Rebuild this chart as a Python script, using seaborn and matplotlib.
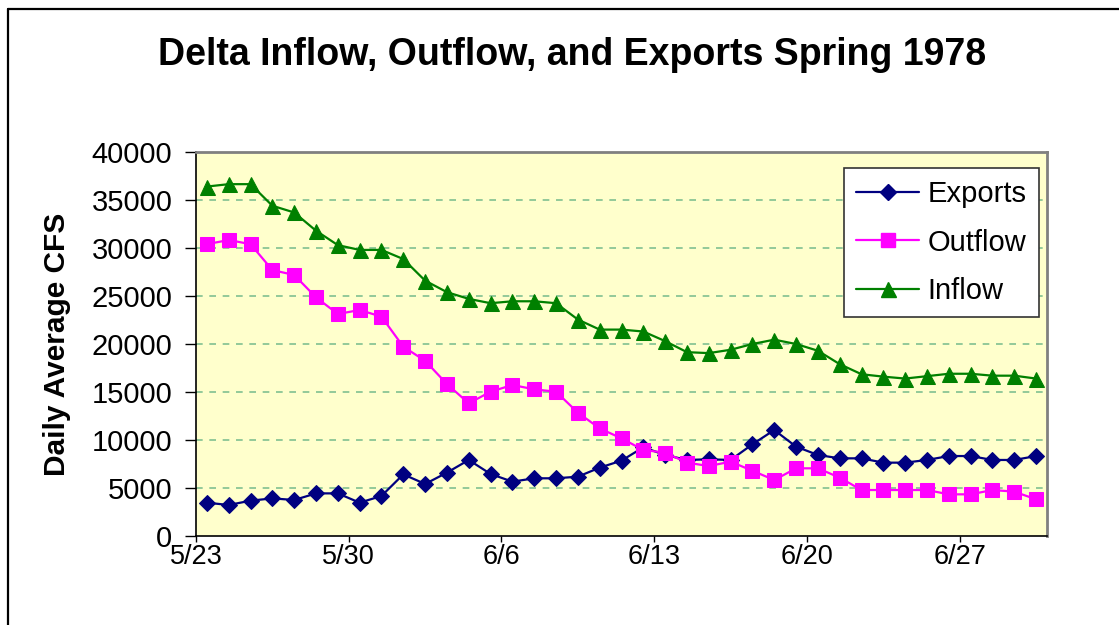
import numpy as np
import pandas as pd
import matplotlib
matplotlib.use('Agg')
import matplotlib.pyplot as plt
import seaborn as sns
from matplotlib.lines import Line2D

# daily values, 5/23 .. 6/30 (39 days)
days = list(range(39))

exports = [3470, 3230, 3680, 3920, 3750, 4440, 4440, 3470, 4170, 6420,
           5420, 6600, 7920, 6460, 5660, 6010, 6010, 6180, 7120, 7850,
           9240, 8440, 7920, 7990, 7920, 9550, 11040, 9310, 8440, 8090,
           8090, 7640, 7640, 7920, 8330, 8330, 7920, 7920, 8330]

outflow = [30400, 30830, 30400, 27700, 27190, 24860, 23125, 23540, 22850, 19720,
           18250, 15830, 13820, 15030, 15730, 15280, 15030, 12850, 11210, 10170,
           8960, 8680, 7640, 7290, 7740, 6800, 5830, 7050, 7050, 6080,
           4790, 4790, 4790, 4790, 4340, 4340, 4790, 4620, 3820]

inflow = [36400, 36650, 36650, 34400, 33700, 31800, 30300, 29800, 29800, 28850,
          26600, 25400, 24700, 24250, 24450, 24450, 24250, 22550, 21500, 21500,
          21300, 20300, 19150, 19050, 19400, 20000, 20450, 20000, 19300, 17900,
          16850, 16600, 16400, 16650, 16900, 16900, 16700, 16700, 16400]

tick_labels = ['5/23', '5/30', '6/6', '6/13', '6/20', '6/27']
y_ticks = [0, 5000, 10000, 15000, 20000, 25000, 30000, 35000, 40000]

series_names = ['Exports', 'Outflow', 'Inflow']
colors = {'Exports': '#000080', 'Outflow': '#FF00FF', 'Inflow': '#008000'}
markers = {'Exports': 'D', 'Outflow': 's', 'Inflow': '^'}
msizes = {'Exports': 8.3, 'Outflow': 9.6, 'Inflow': 10.8}

df = pd.DataFrame({'day': days * 3,
                   'value': exports + outflow + inflow,
                   'series': ['Exports'] * 39 + ['Outflow'] * 39 + ['Inflow'] * 39})

sns.set_style('white')
plt.rcParams['font.family'] = ['Liberation Sans', 'DejaVu Sans']
plt.rcParams['text.color'] = 'black'
plt.rcParams['axes.labelcolor'] = 'black'
plt.rcParams['xtick.color'] = 'black'
plt.rcParams['ytick.color'] = 'black'

fig = plt.figure(figsize=(11.19, 6.25), dpi=100)
ax = fig.add_axes([196 / 1119, 89 / 625, 851 / 1119, 384 / 625])
ax.set_facecolor('#FFFFCC')

for name in series_names:
    sub = df[df['series'] == name]
    sns.lineplot(data=sub, x='day', y='value', ax=ax, color=colors[name],
                 marker=markers[name], markersize=msizes[name],
                 markeredgecolor=colors[name], linewidth=1.6, label=name,
                 legend=False)

ax.set_xlim(-0.5, 38.5)
ax.set_ylim(0, 40000)
ax.set_yticks(y_ticks)
ax.set_yticklabels([str(v) for v in y_ticks], fontsize=21)
ax.set_xticks([-0.5 + 7 * i for i in range(len(tick_labels))])
ax.set_xticklabels(tick_labels, fontsize=19.5)
ax.tick_params(axis='y', direction='out', length=8, width=1, color='black',
               left=True, pad=9)
ax.tick_params(axis='x', direction='out', length=4, width=1, color='black',
               bottom=True, pad=2)

for yv in y_ticks[1:-1]:
    ax.axhline(yv, color='#80C090', linestyle=(0, (4, 4)), linewidth=1.2, zorder=0.5)

ax.set_xlabel('')
ax.set_ylabel('Daily Average CFS', fontsize=21.5, fontweight='bold', va='center')
ax.yaxis.set_label_coords((57 - 196) / 851, 0.5)

for side in ['left', 'bottom']:
    ax.spines[side].set_color('black')
    ax.spines[side].set_linewidth(1.2)
for side in ['top', 'right']:
    ax.spines[side].set_color('#808080')
    ax.spines[side].set_linewidth(2)
    ax.spines[side].set_visible(True)

handles = [Line2D([0], [0], color=colors[n], marker=markers[n],
                  markersize=msizes[n], linewidth=1.6) for n in series_names]
leg = ax.legend(handles, series_names, loc='upper right', fontsize=21,
                frameon=True, fancybox=False, framealpha=1, edgecolor='#333333',
                bbox_to_anchor=((1039 - 196) / 851, (536 - 168) / 384),
                borderaxespad=0, handlelength=2.15, labelspacing=0.7,
                borderpad=0.42, handletextpad=0.3)
leg.get_frame().set_linewidth(1.2)

fig.text(572 / 1119, 1 - 55 / 625, 'Delta Inflow, Outflow, and Exports Spring 1978',
         ha='center', va='center', fontsize=27, fontweight='bold')

# outer chart frame (top and left edges are visible in the original)
fig.add_artist(Line2D([8 / 1119, 8 / 1119], [0, 1 - 9 / 625], color='black', linewidth=1.6))
fig.add_artist(Line2D([8 / 1119, 1], [1 - 9 / 625, 1 - 9 / 625], color='black', linewidth=1.6))

fig.savefig('out.png', dpi=100)
